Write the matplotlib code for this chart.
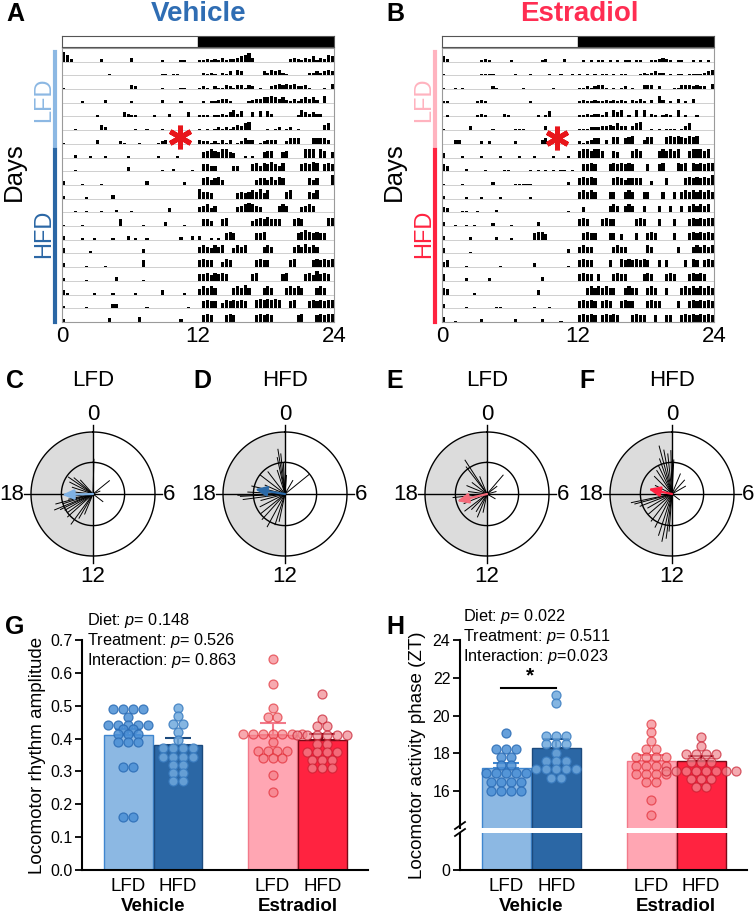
import numpy as np
import matplotlib
matplotlib.use("Agg")
import matplotlib.pyplot as plt
from matplotlib.lines import Line2D

plt.rcParams['font.family'] = ['Liberation Sans', 'DejaVu Sans']
plt.rcParams['mathtext.fontset'] = 'custom'
plt.rcParams['mathtext.it'] = 'Liberation Sans:italic'
plt.rcParams['mathtext.rm'] = 'Liberation Sans'

W, H = 755, 917

# ---------------- colours ----------------
VEH_TITLE = '#2f6db3'
EST_TITLE = '#ff2d52'
VEH_LFD_C = '#8cb8e3'
VEH_HFD_C = '#2b67a5'
EST_LFD_C = '#ffa6b3'
EST_HFD_C = '#ff2340'
VEH_LFD_E = '#3f86cf'
VEH_HFD_E = '#1c4a7d'
EST_LFD_E = '#f27a8a'
EST_HFD_E = '#7a0a18'

# ---------------- actogram data (activity level 0-9, 20-min bins) ----------------
VEH_LIGHT = [
    "752000000020000000300000001000011000",
    "000000000000100000000000001101100000",
    "100000000000000000320000001000011000",
    "000001000002000000100000002000010000",
    "000000000100000032110000100020000300",
    "000100000042000000010010001000000000",
    "100000000300000210001000012300000000",
    "000200010001000001000000010000100000",
    "000100000000000003000000001002000010",
    "300001000010000000000030000000002000",
    "200000100000030000000000000000000000",
    "000100100010002000100000000030000000",
    "100001000000000500000100000300001000",
    "300001001000010003010010000000020030",
    "400000020000000000000300000000000000",
    "300000100001000000000500000000000000",
    "200000100000003000000100000000000000",
    "310000001000010000010000003000001000",
    "200000100000033000000010000000000100",
    "200000000000300000004000000000020000",
]
VEH_DARK = [
    "112121312234563000000000232132413254",
    "021210213043000003243421000002232343",
    "121021132133132010023434342231000104",
    "010112331000012334454342131343420500",
    "111011213524003040420000001532322000",
    "101012121243560000101201201000000450",
    "322121313012433012333002444000444430",
    "045654664300101004550045000066606504",
    "055440000440005646575460000565760565",
    "056456400000000455464650000005450007",
    "755400000045456574600005600005460000",
    "456350000045676540000565000456500000",
    "055400560000004565755500056500000066",
    "300101056500000556000000005676565500",
    "565465600465600005650000056575650000",
    "565500465000000565500000560000565656",
    "556465650000005600000056000056475650",
    "465650000565750005650005656500056500",
    "056550465656500676767600560005656566",
    "056500056500000565650000005600056566",
]
EST_LIGHT = [
    "420000000012100000100000001200002000",
    "100000000011110000010001000010010010",
    "100101000000021000000100000001000000",
    "110000000121000000000001000000000000",
    "010000000121000021000000010140000000",
    "100000030000010000011100000300000000",
    "000330000020200000020000003400000000",
    "300001000010000100001000100001000100",
    "540000200001000011000001010101011010",
    "100001000000020000011111000000000200",
    "200000100010000100000001000000000000",
    "430001100100002000000000000000000100",
    "300100101000020000100000030000000000",
    "300000020000002000100000566400000000",
    "400000010000000000000000000000000300",
    "450000100000000100000000300000000100",
    "500000200000200000000000003000000000",
    "540000001000000000000000030000000000",
    "300000100000001100000000100010000000",
    "400100000020000000020000002000010000",
]
EST_DARK = [
    "010101101010110110011232101100101010",
    "101010110101100012123220101101111234",
    "112123310101201003330200011333232204",
    "121121121212102131020520103010300000",
    "112122130535010505021012105010010000",
    "111222334353303560010101110135000000",
    "212344030550456003550005656546560000",
    "566566500540005650000565656005666560",
    "055650005656565000500560006560656566",
    "565650000565455550030005000056565657",
    "565650005500565005500050050565656565",
    "040000005650565005000500500505656560",
    "565000565500000565000500050005656566",
    "056550005504000500565000050005656565",
    "565500000565500000650000005000565656",
    "565500005006565656500505000050650565",
    "565505000565500005650005650005656500",
    "005656565500565500565005000565656565",
    "565650565005655000565500005005656565",
    "565650565650005655005005500565656565",
]
VEH_STAR = (10.4, 13.5)
EST_STAR = (10.15, 13.4)

# ---------------- circular phase data (hour, relative amplitude) ----------------
C_HOURS = [16.5, 16.3, 16.0, 15.6, 15.2, 14.4, 14.0, 16.8, 17.2, 17.6, 18.4, 19.2,
           19.8, 20.3, 20.7, 21.2, 0.1, 3.4, 4.5, 8.5, 13.5, 17.0]
C_LENS = [0.67, 0.58, 0.52, 0.5, 0.55, 0.6, 0.45, 0.5, 0.4, 0.35, 0.3, 0.35,
          0.42, 0.48, 0.4, 0.3, 0.56, 0.34, 0.12, 0.2, 0.35, 0.62]
C_MEAN = (17.9, 0.5)
D_HOURS = [23.4, 23.6, 23.8, 23.2, 22.8, 21.5, 20.5, 19.6, 18.9, 18.2, 17.9, 17.8,
           17.5, 17.0, 16.2, 15.4, 14.8, 13.9, 13.2, 12.8, 3.4, 2.0, 0.3]
D_LENS = [0.73, 0.65, 0.5, 0.6, 0.4, 0.45, 0.5, 0.35, 0.55, 0.6, 0.76, 0.72,
          0.68, 0.4, 0.45, 0.5, 0.55, 0.6, 0.52, 0.45, 0.5, 0.25, 0.3]
D_MEAN = (18.6, 0.49)
E_HOURS = [21.8, 21.5, 20.5, 19.5, 18.5, 17.6, 17.2, 16.5, 15.5, 15.0, 14.1, 13.5,
           12.8, 2.7, 3.5, 5.0, 8.0, 22.5]
E_LENS = [0.65, 0.55, 0.3, 0.35, 0.3, 0.55, 0.45, 0.4, 0.45, 0.35, 0.33, 0.4,
          0.3, 0.4, 0.2, 0.15, 0.15, 0.3]
E_MEAN = (17.1, 0.5)
F_HOURS = [23.0, 23.3, 23.6, 23.9, 22.7, 22.3, 21.8, 0.2, 21.0, 19.8, 17.2, 17.0,
           16.6, 16.0, 15.3, 14.5, 13.8, 13.2, 12.8, 12.5, 12.3, 1.5, 2.8, 4.0, 8.5]
F_LENS = [0.8, 0.72, 0.65, 0.7, 0.6, 0.5, 0.45, 0.55, 0.4, 0.3, 0.67, 0.62,
          0.55, 0.45, 0.5, 0.55, 0.6, 0.7, 0.78, 0.72, 0.6, 0.35, 0.3, 0.25, 0.15]
F_MEAN = (18.8, 0.39)

# ---------------- bar chart data ----------------
GROUPS = ["Vehicle", "Estradiol"]
DIETS = ["LFD", "HFD", "LFD", "HFD"]

AMP_MEAN = [0.410, 0.381, 0.412, 0.397]
AMP_SEM = [0.020, 0.021, 0.034, 0.018]
AMP_VEH_LFD = [0.49, 0.49, 0.49, 0.49, 0.467, 0.441, 0.441, 0.441, 0.441, 0.441,
               0.428, 0.428, 0.415, 0.415, 0.415, 0.39, 0.39, 0.39, 0.315, 0.315,
               0.162, 0.162]
AMP_VEH_HFD = [0.492, 0.47, 0.445, 0.445, 0.42, 0.395, 0.37, 0.37, 0.37, 0.37,
               0.345, 0.345, 0.345, 0.345, 0.32, 0.32, 0.295, 0.295, 0.27, 0.27]
AMP_EST_LFD = [0.641, 0.566, 0.492, 0.467, 0.467, 0.414, 0.414, 0.414, 0.414,
               0.414, 0.414, 0.414, 0.39, 0.363, 0.363, 0.363, 0.363, 0.34, 0.34,
               0.34, 0.288, 0.237]
AMP_EST_HFD = [0.535, 0.46, 0.437, 0.437, 0.41, 0.41, 0.41, 0.41, 0.41, 0.41,
               0.385, 0.385, 0.36, 0.36, 0.36, 0.36, 0.335, 0.335, 0.335, 0.31,
               0.31, 0.31]

PH_MEAN = [17.24, 18.30, 17.61, 17.61]
PH_SEM = [0.27, 0.44, 0.33, 0.27]
PH_VEH_LFD = [19.06, 18.22, 18.22, 18.22, 17.83, 17.83, 17.39, 17.39, 16.95, 16.95,
              16.95, 16.95, 16.95, 16.47, 16.47, 16.47, 16.47, 16.03, 16.03, 16.03,
              16.03]
PH_VEH_HFD = [21.09, 20.68, 18.92, 18.92, 18.92, 18.5, 18.5, 18.5, 18.04, 17.6,
              17.6, 17.6, 17.16, 17.16, 17.16, 17.16, 17.16, 16.71, 16.71]
PH_EST_LFD = [19.56, 19.12, 18.67, 18.23, 18.23, 17.79, 17.79, 17.79, 17.79, 17.35,
              17.35, 17.35, 17.35, 16.9, 16.9, 16.9, 16.9, 16.47, 16.47, 15.53, 14.74]
PH_EST_HFD = [18.85, 18.41, 17.97, 17.97, 17.97, 17.97, 17.53, 17.53, 17.53, 17.09,
              17.09, 17.09, 17.09, 17.09, 17.09, 17.09, 17.09, 16.65, 16.65, 16.65,
              16.21, 16.21]

AMP_STATS = ["Diet: $\\it{p}$= 0.148", "Treatment: $\\it{p}$= 0.526",
             "Interaction: $\\it{p}$= 0.863"]
PH_STATS = ["Diet: $\\it{p}$= 0.022", "Treatment: $\\it{p}$= 0.511",
            "Interaction: $\\it{p}$=0.023"]

# =====================================================================
fig = plt.figure(figsize=(W / 100, H / 100), dpi=100)


def box(l, t, r, b):
    return [l / W, 1 - b / H, (r - l) / W, (b - t) / H]


def ftext(x, y, s, **kw):
    kw.setdefault('ha', 'center')
    kw.setdefault('va', 'center')
    fig.text(x / W, 1 - y / H, s, **kw)


def fline(x0, y0, x1, y1, **kw):
    fig.add_artist(Line2D([x0 / W, x1 / W], [1 - y0 / H, 1 - y1 / H], **kw))


# ---------------- actograms ----------------
def actogram(left, light_rows, dark_rows, star, col_lfd, col_hfd):
    ax = fig.add_axes(box(left, 48, left + 272, 322))
    n = len(light_rows)
    bw = 24 / 72
    xc = (np.arange(72) + 0.5) * bw
    for i, (lt, dk) in enumerate(zip(light_rows, dark_rows)):
        s = lt.ljust(36, '0')[:36] + dk.ljust(36, '0')[:36]
        v = np.array([int(c) for c in s]) / 9 * 0.9
        base = n - 1 - i
        ax.axhline(base, color='#c8c8c8', lw=0.6, zorder=1)
        m = v > 0
        ax.bar(xc[m], v[m], width=bw * 0.8, bottom=base, color='black',
               linewidth=0, zorder=2)
    ax.set_xlim(0, 24)
    ax.set_ylim(0, n)
    ax.set_yticks([])
    ax.set_xticks([0, 12, 24])
    ax.set_xticklabels(['0', '12', '24'], fontsize=16)
    ax.tick_params(axis='x', length=0, pad=3)
    for sp in ax.spines.values():
        sp.set_color('#9a9a9a')
        sp.set_linewidth(0.8)
    ax.plot(star[0], star[1], marker=(6, 2, 0), ms=17, mew=3.6,
            color='#e8161b', clip_on=False, zorder=5)

    # light / dark bar
    lb = fig.add_axes(box(left, 36, left + 272, 47))
    lb.axvspan(12, 24, color='black')
    lb.set_xlim(0, 24)
    lb.set_xticks([])
    lb.set_yticks([])
    for sp in lb.spines.values():
        sp.set_color('#555555')
        sp.set_linewidth(0.8)

    # diet bars and labels
    xl = left - 7
    fline(xl, 52, xl, 146, color=col_lfd, lw=3)
    fline(xl, 150, xl, 322, color=col_hfd, lw=3)
    ftext(left - 18, 100, 'LFD', rotation=90, fontsize=17, color=col_lfd)
    ftext(left - 18, 234, 'HFD', rotation=90, fontsize=17, color=col_hfd)
    ftext(left - 48, 172, 'Days', rotation=90, fontsize=18.5)


actogram(62, VEH_LIGHT, VEH_DARK, VEH_STAR, VEH_LFD_C, VEH_HFD_C)
actogram(442, EST_LIGHT, EST_DARK, EST_STAR, '#ffb3bf', EST_HFD_C)

ftext(15, 14, 'A', fontsize=18, fontweight='bold')
ftext(395, 14, 'B', fontsize=18, fontweight='bold')
ftext(199, 14, 'Vehicle', fontsize=20, fontweight='bold', color=VEH_TITLE)
ftext(579, 14, 'Estradiol', fontsize=20, fontweight='bold', color=EST_TITLE)


# ---------------- circular plots ----------------
def clock(cx, cy, hours, lens, mean, arrow_col, title, letter, lx):
    R = 62
    ext = 1.12
    ax = fig.add_axes(box(cx - R * ext, cy - R * ext, cx + R * ext, cy + R * ext),
                      projection='polar')
    ax.set_theta_zero_location('N')
    ax.set_theta_direction(-1)
    ax.set_ylim(0, ext)
    ax.grid(False)
    ax.set_xticks([])
    ax.set_yticks([])
    ax.spines['polar'].set_visible(False)
    ax.patch.set_alpha(0)

    tt = np.linspace(np.pi, 2 * np.pi, 181)
    ax.fill_between(tt, 0, 1, color='#dcdcdc', lw=0, zorder=0)
    circ = np.linspace(0, 2 * np.pi, 361)
    ax.plot(circ, np.ones_like(circ), color='black', lw=1.0, zorder=2)
    ax.plot(circ, np.full_like(circ, 0.51), color='black', lw=1.0, zorder=2)
    for a in [0, np.pi / 2, np.pi, 3 * np.pi / 2]:
        ax.plot([a, a], [0, ext], color='black', lw=1.0, zorder=2, clip_on=False)

    th = np.array(hours) / 24 * 2 * np.pi
    for t, r in zip(th, lens):
        ax.plot([t, t], [0, r], color='black', lw=0.7, zorder=3)
    mt = mean[0] / 24 * 2 * np.pi
    ax.annotate('', xy=(mt, mean[1]), xytext=(0, 0),
                arrowprops=dict(arrowstyle='-|>,head_length=0.7,head_width=0.3',
                                color=arrow_col, lw=1.6, shrinkA=0, shrinkB=0),
                zorder=4)

    ax.text(0, 1.28, '0', ha='center', va='center', fontsize=16)
    ax.text(np.pi / 2, 1.22, '6', ha='center', va='center', fontsize=16)
    ax.text(np.pi, 1.33, '12', ha='center', va='center', fontsize=16)
    ax.text(3 * np.pi / 2, 1.31, '18', ha='center', va='center', fontsize=16)

    ftext(cx, 381, title, fontsize=16)
    ftext(lx, 381, letter, fontsize=18, fontweight='bold')


clock(93, 494, C_HOURS, C_LENS, C_MEAN, '#7fb2e5', 'LFD', 'C', 15)
clock(285, 494, D_HOURS, D_LENS, D_MEAN, '#2b6aa8', 'HFD', 'D', 202)
clock(487, 494, E_HOURS, E_LENS, E_MEAN, '#f56b7a', 'LFD', 'E', 395)
clock(672, 494, F_HOURS, F_LENS, F_MEAN, '#ff2040', 'HFD', 'F', 587)

# ---------------- bar charts ----------------
POS = [0, 1, 2.9, 3.9]
XLIM = (-0.93, 4.82)
FILLS = [VEH_LFD_C, VEH_HFD_C, EST_LFD_C, EST_HFD_C]
EDGES = [VEH_LFD_E, VEH_HFD_E, EST_LFD_E, EST_HFD_E]
PT_FACE = ['#4b8fd5', '#70a9dd', '#f47c84', '#f08890']
PT_EDGE = ['#2b6cb5', '#3a7cc0', '#e0262f', '#c81e30']
PT_ALPHA = [0.85, 0.85, 0.65, 0.7]


def swarm(vals, step=0.2):
    vals = np.asarray(vals)
    off = np.zeros(len(vals))
    for v in np.unique(vals):
        idx = np.where(vals == v)[0]
        off[idx] = (np.arange(len(idx)) - (len(idx) - 1) / 2) * step
    return off


def draw_bars(ax, means, sems, points, err=True, pts=True):
    for k in range(4):
        ax.bar(POS[k], means[k], width=0.98, color=FILLS[k], edgecolor=EDGES[k],
               lw=1.0, zorder=1)
        if err:
            ax.errorbar(POS[k], means[k], yerr=[[0], [sems[k]]], color=EDGES[k],
                        capsize=9.5, elinewidth=1.5, capthick=1.5, zorder=2)
        if pts:
            xs = POS[k] + swarm(points[k])
            ax.scatter(xs, points[k], s=42, facecolor=PT_FACE[k], alpha=PT_ALPHA[k],
                       edgecolor=PT_EDGE[k], linewidth=0.9, zorder=3, clip_on=False)


def style(ax):
    ax.spines['top'].set_visible(False)
    ax.spines['right'].set_visible(False)
    for s in ['left', 'bottom']:
        ax.spines[s].set_linewidth(1.5)
    ax.tick_params(axis='y', length=5, width=1.3, labelsize=11.5, pad=2)
    ax.tick_params(axis='x', length=0, labelsize=13.5, pad=6)
    ax.set_xlim(*XLIM)


def group_labels(ax):
    ax.set_xticks(POS)
    ax.set_xticklabels(DIETS)
    for g, cxp in zip(GROUPS, [0.5, 3.4]):
        ax.annotate(g, xy=(cxp, 0), xycoords=('data', 'axes fraction'),
                    xytext=(0, -26.5), textcoords='offset points', ha='center',
                    va='center', fontsize=13.5, fontweight='bold')


# G
axg = fig.add_axes(box(82, 640, 368, 870))
draw_bars(axg, AMP_MEAN, AMP_SEM, [AMP_VEH_LFD, AMP_VEH_HFD, AMP_EST_LFD, AMP_EST_HFD])
style(axg)
axg.set_ylim(0, 0.7)
axg.set_yticks(np.arange(0, 0.71, 0.1))
axg.set_yticklabels([f'{v:.1f}' for v in np.arange(0, 0.71, 0.1)])
axg.set_ylabel('Locomotor rhythm amplitude', fontsize=13.5, labelpad=3)
group_labels(axg)
for i, s in enumerate(AMP_STATS):
    ftext(87, 620 + 20 * i, s, ha='left', fontsize=11.7)
ftext(15, 627, 'G', fontsize=18, fontweight='bold')

# H (broken axis)
axt = fig.add_axes(box(460, 640, 747, 828))
axb = fig.add_axes(box(460, 833, 747, 870))
draw_bars(axt, PH_MEAN, PH_SEM, [PH_VEH_LFD, PH_VEH_HFD, PH_EST_LFD, PH_EST_HFD])
draw_bars(axb, PH_MEAN, PH_SEM, None, err=False, pts=False)
style(axt)
style(axb)
axt.spines['bottom'].set_visible(False)
axt.set_ylim(14.05, 24)
axt.set_yticks([16, 18, 20, 22, 24])
axt.set_xticks([])
axb.set_ylim(0, 1.96)
axb.set_yticks([0])
group_labels(axb)
axt.plot([-0.1, 0.99], [21.48, 21.48], color='black', lw=1.5, zorder=4)
axt.text(0.47, 21.62, '*', ha='center', va='bottom', fontsize=15, fontweight='bold')
for i, s in enumerate(PH_STATS):
    ftext(463, 617 + 20 * i, s, ha='left', fontsize=11.7)
ftext(418, 755, 'Locomotor activity phase (ZT)', rotation=90, fontsize=13.5)
ftext(395, 627, 'H', fontsize=18, fontweight='bold')
fline(455, 829, 465, 822, color='black', lw=1.3)
fline(455, 836, 465, 829, color='black', lw=1.3)

fig.savefig('out.png', dpi=100)
